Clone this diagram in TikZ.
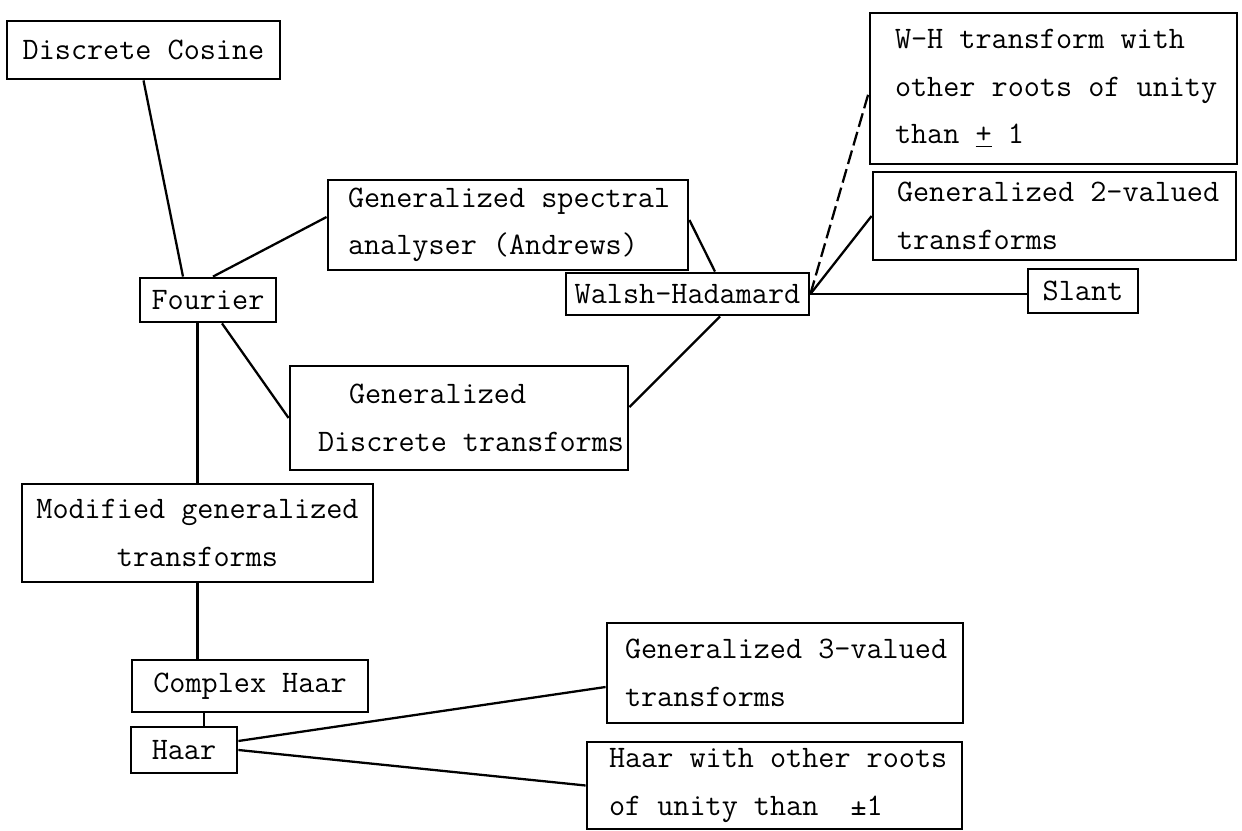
\documentclass[tikz,border=0pt]{standalone}
\usepackage{tikz}
\tikzset{tbox/.style={draw,line width=1.6pt,inner ysep=0pt,font=\ttfamily\fontsize{17.8}{27}\selectfont,
    execute at begin node={\spaceskip=0pt\xspaceskip=0pt\relax}},
  link/.style={line width=1.3pt}}

\begin{document}
\begin{tikzpicture}
\useasboundingbox (0,0) rectangle (24.84,16.62);
\node[tbox,inner xsep=0pt,minimum width=5.46cm,minimum height=1.16cm] (dc) at (2.87,15.62) {Discrete Cosine};
\node[tbox,inner xsep=0pt,minimum width=2.72cm,minimum height=0.88cm] (four) at (4.16,10.62) {Fourier};
\node[tbox,align=left,inner xsep=0.4cm,text width=6.4cm,minimum height=1.8cm] (gsa) at (10.16,12.12)
  {\mbox{Generalized spectral}\\\mbox{analyser (Andrews)}};
\node[tbox,inner xsep=0pt,minimum width=4.86cm,minimum height=0.84cm] (wh) at (13.75,10.74) {Walsh-Hadamard};
\node[tbox,align=left,inner xsep=0.56cm,text width=5.64cm,minimum height=2.08cm] (gdt) at (9.18,8.26)
  {\hspace*{0.62cm}Generalized\\\mbox{Discrete transforms}};
\node[tbox,align=left,inner xsep=0.5cm,text width=6.34cm,minimum height=3.02cm] (whr) at (21.07,14.85)
  {\mbox{W-H transform with}\\\mbox{other roots of unity}\\\mbox{than \underline{+} 1}};
\node[tbox,align=left,inner xsep=0.48cm,text width=6.3cm,minimum height=1.76cm] (g2v) at (21.09,12.30)
  {\mbox{Generalized 2-valued}\\transforms};
\node[tbox,inner xsep=0pt,minimum width=2.2cm,minimum height=0.88cm] (sl) at (21.66,10.80) {Slant};
\node[tbox,align=center,inner xsep=0.21cm,text width=6.6cm,minimum height=1.96cm] (mgt) at (3.95,5.96)
  {\mbox{Modified generalized}\\transforms};
\node[tbox,inner xsep=0pt,minimum width=4.72cm,minimum height=1.04cm] (ch) at (5.0,2.9) {Complex Haar};
\node[tbox,inner xsep=0pt,minimum width=2.12cm,minimum height=0.92cm] (haar) at (3.68,1.62) {Haar};
\node[tbox,align=left,inner xsep=0.36cm,text width=6.4cm,minimum height=2.0cm] (g3v) at (15.7,3.16)
  {\mbox{Generalized 3-valued}\\transforms};
\node[tbox,align=left,inner xsep=0.44cm,text width=6.62cm,minimum height=1.74cm] (hwr) at (15.49,0.91)
  {\mbox{Haar with other roots}\\\mbox{of unity than \ ±1}};

\draw[link] (dc.south) -- ([xshift=-0.5cm]four.north);
\draw[link] ([xshift=0.1cm]four.north) -- ([yshift=0.16cm]gsa.west);
\draw[link] ([yshift=0.1cm]gsa.east) -- ([xshift=0.55cm]wh.north);
\draw[link] ([xshift=0.28cm]four.south) -- (gdt.west);
\draw[link] ([yshift=0.22cm]gdt.east) -- ([xshift=0.65cm]wh.south);
\draw[link] (mgt.north |- four.south) -- (mgt.north);
\draw[link] (mgt.south) -- (mgt.south |- ch.north);
\draw[link] ([xshift=0.4cm]haar.north) -- ([xshift=0.4cm]haar.north |- ch.south);
\draw[link] ([yshift=0.18cm]haar.east) -- ([yshift=-0.28cm]g3v.west);
\draw[link] (haar.east) -- (hwr.west);
\draw[link,dash pattern=on 8pt off 3pt] (wh.east) -- ([yshift=-0.09cm]whr.west);
\draw[link] (wh.east) -- (g2v.west);
\draw[link] (wh.east) -- (wh.east -| sl.west);
\end{tikzpicture}
\end{document}
